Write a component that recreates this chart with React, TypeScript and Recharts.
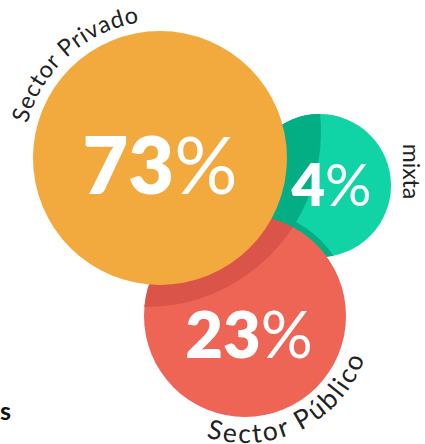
import { ScatterChart, Scatter, XAxis, YAxis, ZAxis } from 'recharts';

const sectors = ['Sector Privado', 'mixta', 'Sector Público'];
const shares = [73, 4, 23];
const bubbleX = [160, 319.5, 245];
const bubbleY = [158, 185.5, 316];
const bubbleR = [127, 71.5, 101];
const footText = 's';

const ORANGE = '#F2A93D';
const TEAL = '#10D3A6';
const TEAL_DARK = '#03AE85';
const RED = '#EE6455';
const RED_DARK = '#DA5449';
const INK = '#222222';
const FONT = 'Lato, "Open Sans", sans-serif';

type Bubble = { key: string; label: string; share: number; x: number; y: number; r: number };

const bubbles: Bubble[] = sectors.map((label, i) => ({
  key: ['privado', 'mixta', 'publico'][i],
  label,
  share: shares[i],
  x: bubbleX[i],
  y: bubbleY[i],
  r: bubbleR[i],
}));

const privado = [bubbles[0]];
const mixta = [bubbles[1]];
const publico = [bubbles[2]];

const pt = (cx: number, cy: number, rad: number, deg: number) => {
  const a = (deg * Math.PI) / 180;
  return [cx + rad * Math.cos(a), cy + rad * Math.sin(a)];
};

function MixtaShape(props: any) {
  const { cx, cy, size } = props;
  return (
    <g>
      <defs>
        <clipPath id="clip-mixta">
          <circle cx={cx} cy={cy} r={size} />
        </clipPath>
      </defs>
      <circle cx={cx} cy={cy} r={size} fill={TEAL} />
    </g>
  );
}

function PublicoShape(props: any) {
  const { cx, cy, size } = props;
  return (
    <g>
      <defs>
        <clipPath id="clip-publico">
          <circle cx={cx} cy={cy} r={size} />
        </clipPath>
        <mask id="mask-no-publico" maskUnits="userSpaceOnUse" x={-1000} y={-1000} width={3000} height={3000}>
          <rect x={-1000} y={-1000} width={3000} height={3000} fill="white" />
          <circle cx={cx} cy={cy} r={size} fill="black" />
        </mask>
      </defs>
      <g clipPath="url(#clip-mixta)">
        <circle cx={cx} cy={cy} r={size + 6} fill={TEAL_DARK} />
      </g>
      <circle cx={cx} cy={cy} r={size} fill={RED} />
    </g>
  );
}

function PrivadoShape(props: any) {
  const { cx, cy, size } = props;
  const sx = cx - 14;
  const sy = cy - 26;
  const sr = size + 48;
  return (
    <g>
      <g clipPath="url(#clip-mixta)">
        <g mask="url(#mask-no-publico)">
          <circle cx={sx} cy={sy} r={sr} fill={TEAL_DARK} />
        </g>
      </g>
      <g clipPath="url(#clip-publico)">
        <circle cx={sx} cy={sy} r={sr} fill={RED_DARK} />
      </g>
      <circle cx={cx} cy={cy} r={size} fill={ORANGE} />
    </g>
  );
}

function LabelShape(props: any) {
  const { cx, cy, size, payload } = props;
  const b = payload as Bubble;
  const pct = (fs: number, dx: number, dy: number) => (
    <text x={cx + dx} y={cy + dy} textAnchor="middle" fill="#fff" fontFamily={FONT} fontSize={fs}>
      <tspan fontWeight={800}>{b.share}</tspan>
      <tspan fontWeight={400}>%</tspan>
    </text>
  );
  if (b.key === 'privado') {
    const rad = 137;
    const [x1, y1] = pt(cx, cy, rad, 150);
    const [x2, y2] = pt(cx, cy, rad, 320);
    return (
      <g>
        <path id="arc-privado" d={`M${x1},${y1} A${rad},${rad} 0 0 1 ${x2},${y2}`} fill="none" />
        <text fontFamily={FONT} fontSize={23.5} fill={INK} letterSpacing={0.7}>
          <textPath href="#arc-privado" startOffset="45.9%" textAnchor="middle">
            {b.label}
          </textPath>
        </text>
        {pct(79, 0, 36)}
      </g>
    );
  }
  if (b.key === 'publico') {
    const rad = 127;
    const [x1, y1] = pt(cx, cy, rad, 170);
    const [x2, y2] = pt(cx, cy, rad, 0);
    return (
      <g>
        <path id="arc-publico" d={`M${x1},${y1} A${rad},${rad} 0 0 0 ${x2},${y2}`} fill="none" />
        <text fontFamily={FONT} fontSize={26.5} fill={INK} letterSpacing={2.2}>
          <textPath href="#arc-publico" startOffset="62.8%" textAnchor="middle">
            {b.label}
          </textPath>
        </text>
        {pct(65, 4, 42)}
      </g>
    );
  }
  return (
    <g>
      <text
        transform={`translate(${cx + size + 12},${cy - 14}) rotate(90)`}
        textAnchor="middle"
        fontFamily={FONT}
        fontSize={23}
        fill={INK}
      >
        {b.label}
      </text>
      {pct(58, 12, 20)}
    </g>
  );
}

export default function App() {
  return (
    <div style={{ width: 425, height: 444, position: 'absolute', left: 0, top: 0, background: '#fff' }}>
      <style>{'body{margin:0}'}</style>
      <ScatterChart width={425} height={444} margin={{ top: 0, right: 0, bottom: 0, left: 0 }}>
        <XAxis type="number" dataKey="x" domain={[0, 425]} hide />
        <YAxis type="number" dataKey="y" domain={[0, 444]} reversed hide />
        <ZAxis type="number" dataKey="r" domain={[0, 425]} range={[0, 425]} />
        <Scatter data={mixta} shape={MixtaShape} isAnimationActive={false} />
        <Scatter data={publico} shape={PublicoShape} isAnimationActive={false} />
        <Scatter data={privado} shape={PrivadoShape} isAnimationActive={false} />
        <Scatter data={bubbles} shape={LabelShape} isAnimationActive={false} />
      </ScatterChart>
      <svg width={30} height={444} style={{ position: 'absolute', left: 0, top: 0 }}>
        <text x={0} y={420} fontFamily={FONT} fontWeight={700} fontSize={25} fill="#111">
          {footText}
        </text>
      </svg>
    </div>
  );
}
